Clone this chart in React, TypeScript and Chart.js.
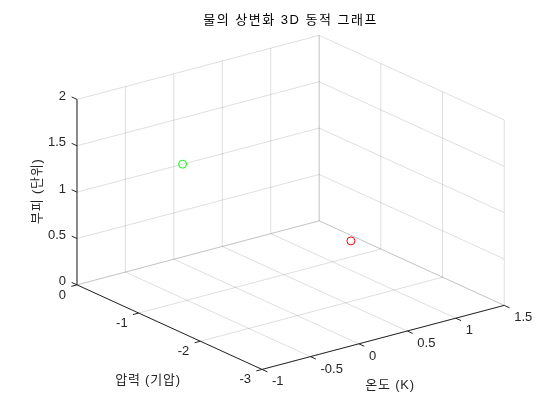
import React, { useEffect, useRef } from "react";
import { Chart, registerables } from "chart.js";

Chart.register(...registerables);

// ---- data ----
const xTicks = [-1, -0.5, 0, 0.5, 1, 1.5];
const yTicks = [-3, -2, -1, 0];
const zTicks = [0, 0.5, 1, 1.5, 2];
const xTickLabels = ["-1", "-0.5", "0", "0.5", "1", "1.5"];
const yTickLabels = ["-3", "-2", "-1", "0"];
const zTickLabels = ["0", "0.5", "1", "1.5", "2"];

const temperature = [0.09, 1.42];
const pressure = [0, -0.64];
const volume = [1.0, 0];
const pointColors = ["#00ff00", "#ff0000"];

const titleText = "물의 상변화 3D 동적 그래프";
const xLabel = "온도 (K)";
const yLabel = "압력 (기압)";
const zLabel = "부피 (단위)";

// ---- view (orthographic projection of the plot box) ----
const X0 = xTicks[0];
const X1 = xTicks[xTicks.length - 1];
const Y0 = yTicks[0];
const Y1 = yTicks[yTicks.length - 1];
const Z0 = zTicks[0];
const Z1 = zTicks[zTicks.length - 1];

const VIEW = {
  ox: 73.3,
  oy: 286.7,
  xv: [98.64, -26.24],
  yv: [-62.8, -28.87],
  zv: [0, -95],
};

function project(x: number, y: number, z: number) {
  const a = x - X0;
  const b = y - Y1;
  const c = z - Z0;
  return {
    x: VIEW.ox + a * VIEW.xv[0] + b * VIEW.yv[0] + c * VIEW.zv[0],
    y: VIEW.oy + a * VIEW.xv[1] + b * VIEW.yv[1] + c * VIEW.zv[1],
  };
}

type P3 = [number, number, number];

const GRID = "rgba(38,38,38,0.15)";
const AXIS = "#262626";
const FONT = '"Liberation Sans", "Noto Sans CJK KR", sans-serif';

function segDataset(a: P3, b: P3, color: string) {
  return {
    type: "scatter" as const,
    data: [project(...a), project(...b)],
    showLine: true,
    borderColor: color,
    borderWidth: 1,
    pointRadius: 0,
    pointHoverRadius: 0,
    fill: false,
    tension: 0,
  };
}

export default function App() {
  const ref = useRef<HTMLCanvasElement | null>(null);

  useEffect(() => {
    if (!ref.current) return;
    const datasets: any[] = [];
    // grid on wall y = Y1, floor z = Z0, wall x = X1
    xTicks.forEach((x) => {
      datasets.push(segDataset([x, Y1, Z0], [x, Y1, Z1], GRID));
      datasets.push(segDataset([x, Y0, Z0], [x, Y1, Z0], GRID));
    });
    zTicks.forEach((z) => {
      datasets.push(segDataset([X0, Y1, z], [X1, Y1, z], GRID));
      datasets.push(segDataset([X1, Y0, z], [X1, Y1, z], GRID));
    });
    yTicks.forEach((y) => {
      datasets.push(segDataset([X1, y, Z0], [X1, y, Z1], GRID));
      datasets.push(segDataset([X0, y, Z0], [X1, y, Z0], GRID));
    });
    // axes
    datasets.push(segDataset([X0, Y1, Z0], [X0, Y1, Z1], AXIS));
    datasets.push(segDataset([X0, Y0, Z0], [X0, Y1, Z0], AXIS));
    datasets.push(segDataset([X0, Y0, Z0], [X1, Y0, Z0], AXIS));
    // ticks (outward)
    const tz = 0.087;
    const ty = 0.059;
    const tx = 0.087;
    zTicks.forEach((z) => datasets.push(segDataset([X0, Y1, z], [X0, Y1 + tz, z], AXIS)));
    yTicks.forEach((y) => datasets.push(segDataset([X0, y, Z0], [X0 - ty, y, Z0], AXIS)));
    xTicks.forEach((x) => datasets.push(segDataset([x, Y0, Z0], [x, Y0 - tx, Z0], AXIS)));
    // points
    datasets.push({
      type: "scatter",
      data: temperature.map((t, i) => project(t, pressure[i], volume[i])),
      pointRadius: 4,
      pointHoverRadius: 4,
      pointBorderWidth: 1,
      pointBorderColor: pointColors,
      pointBackgroundColor: "rgba(0,0,0,0)",
      showLine: false,
    });

    const textPlugin = {
      id: "labels3d",
      afterDatasetsDraw(chart: any) {
        const ctx = chart.ctx as CanvasRenderingContext2D;
        const sx = chart.scales.x;
        const sy = chart.scales.y;
        const px = (p: { x: number; y: number }) => ({
          x: sx.getPixelForValue(p.x),
          y: sy.getPixelForValue(p.y),
        });
        ctx.save();
        ctx.fillStyle = AXIS;
        ctx.font = `13px ${FONT}`;
        (ctx as any).letterSpacing = "0px";
        ctx.textBaseline = "middle";
        // z tick labels
        ctx.textAlign = "right";
        zTicks.forEach((z, i) => {
          const p = px(project(X0, Y1, z));
          ctx.fillText(zTickLabels[i], p.x - 11, p.y - 3);
        });
        // y tick labels
        yTicks.forEach((y, i) => {
          const p = px(project(X0, y, Z0));
          ctx.fillText(yTickLabels[i], p.x - 11, p.y + 10.5);
        });
        // x tick labels
        ctx.textAlign = "left";
        xTicks.forEach((x, i) => {
          const p = px(project(x, Y0, Z0));
          ctx.fillText(xTickLabels[i], p.x + 10, p.y + 12.5);
        });
        // axis labels
        ctx.font = `13px ${FONT}`;
        (ctx as any).letterSpacing = "0.8px";
        ctx.textAlign = "center";
        const xl = px(project((X0 + X1) / 2, Y0, Z0));
        ctx.fillText(xLabel, xl.x + 7, xl.y + 47.7);
        const yl = px(project(X0, (Y0 + Y1) / 2, Z0));
        ctx.fillText(yLabel, yl.x - 21.5, yl.y + 53);
        const zl = px(project(X0, Y1, (Z0 + Z1) / 2));
        ctx.save();
        ctx.translate(zl.x - 40, zl.y - 1);
        ctx.rotate(-Math.PI / 2);
        ctx.fillText(zLabel, 0, 0);
        ctx.restore();
        // title
        ctx.fillStyle = "#000000";
        (ctx as any).letterSpacing = "1.5px";
        const left = px(project(X0, Y1, Z1));
        const right = px(project(X1, Y0, Z1));
        ctx.fillText(titleText, (left.x + right.x) / 2, 20);
        ctx.restore();
      },
    };

    const chart = new Chart(ref.current, {
      type: "scatter",
      data: { datasets },
      options: {
        animation: false,
        responsive: false,
        devicePixelRatio: 1,
        events: [],
        layout: { padding: 0 },
        plugins: {
          legend: { display: false },
          tooltip: { enabled: false },
          title: { display: false },
        },
        scales: {
          x: { type: "linear", min: 0, max: 560, display: false },
          y: { type: "linear", min: 0, max: 420, reverse: true, display: false },
        },
      },
      plugins: [textPlugin],
    } as any);
    return () => chart.destroy();
  }, []);

  return (
    <div style={{ position: "fixed", left: 0, top: 0, width: 560, height: 420, background: "#fff" }}>
      <canvas ref={ref} width={560} height={420} />
    </div>
  );
}
